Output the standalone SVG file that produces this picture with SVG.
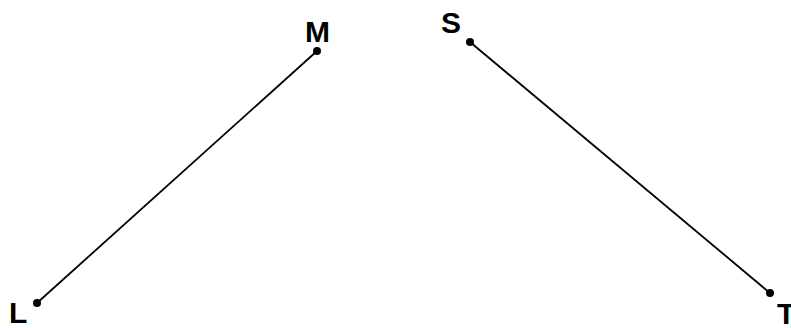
<svg xmlns="http://www.w3.org/2000/svg" width="791" height="328" viewBox="0 0 791 328">
<style>
.lbl{font-family:"Liberation Sans",Arial,sans-serif;font-weight:bold;font-size:30px;fill:#000}
.pt{fill:#000}
.seg{stroke:#000;stroke-width:1.8;fill:none}
</style>
<rect width="791" height="328" fill="#fff"/>
<g id="connectors">
<line class="seg" x1="37" y1="303" x2="317" y2="51"/>
<line class="seg" x1="470" y1="42" x2="770" y2="293"/>
</g>
<g id="L"><circle class="pt" cx="37" cy="303" r="4"/><text class="lbl" x="9" y="323">L</text></g>
<g id="M"><circle class="pt" cx="317" cy="51" r="4"/><text class="lbl" x="305" y="42">M</text></g>
<g id="S"><circle class="pt" cx="470" cy="42" r="4"/><text class="lbl" x="441" y="33">S</text></g>
<g id="T"><circle class="pt" cx="770" cy="293" r="4"/><text class="lbl" x="777" y="324">T</text></g>
</svg>
